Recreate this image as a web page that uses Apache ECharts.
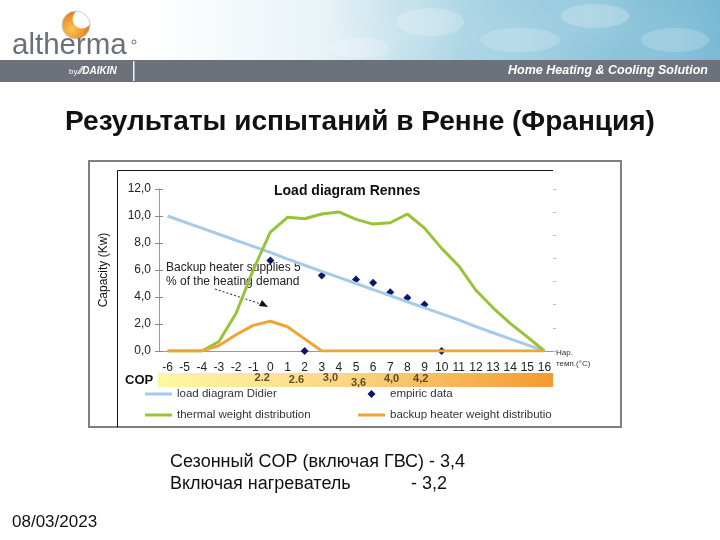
<!DOCTYPE html>
<html>
<head>
<meta charset="utf-8">
<script src="https://cdn.jsdelivr.net/npm/echarts@6/dist/echarts.min.js"></script>
<style>
  html, body { margin: 0; padding: 0; background: #fff; }
  #chart { width: 720px; height: 540px; }
</style>
</head>
<body>
<div id="chart"></div>
<script>
// outdoor temperature (°C)
const temps = ['-6', '-5', '-4', '-3', '-2', '-1', '0', '1', '2', '3', '4', '5', '6', '7', '8', '9', '10', '11', '12', '13', '14', '15', '16']
const loadDidier = [10.0, 9.55, 9.1, 8.65, 8.2, 7.75, 7.3, 6.8, 6.35, 5.9, 5.45, 5.0, 4.55, 4.1, 3.65, 3.2, 2.75, 2.3, 1.8, 1.35, 0.9, 0.45, 0]
const thermalWeight = [0, 0, 0, 0.7, 2.8, 6.0, 8.8, 9.9, 9.8, 10.15, 10.3, 9.75, 9.4, 9.5, 10.15, 9.1, 7.6, 6.3, 4.5, 3.2, 2.05, 1.05, 0]
const backupWeight = [0, 0, 0, 0.4, 1.2, 1.9, 2.2, 1.8, 0.9, 0, 0, 0, 0, 0, 0, 0, 0, 0, 0, 0, 0, 0, 0]
const empiricTemp = ['0', '2', '3', '5', '6', '7', '8', '9', '10']
const empiricCap = [6.7, 0, 5.6, 5.3, 5.05, 4.35, 3.95, 3.45, 0]
// COP values written in the band under the axis
const copTemp = [-0.43, 1.56, 3.54, 5.18, 7.1, 8.8]
const copLevel = [0.64, 0.5, 0.64, 0.32, 0.56, 0.56]
const copLabels = ['2.2', '2.6', '3,0', '3,6', '4,0', '4,2']

const FONT = '"Liberation Sans", Arial, sans-serif'
const chart = echarts.init(document.getElementById('chart'))

const seriesNames = ['load diagram Didier', 'thermal weight distribution', 'backup heater weight distribution', 'empiric data']
const lineIcon = 'path://M0,0L27,0L27,3L0,3Z'
const diamondIcon = 'path://M4,0L8,4L4,8L0,4Z'

const cloud = (cx, cy, rx, ry, a) => ({
  type: 'ellipse', z: -9, silent: true,
  shape: { cx, cy, rx, ry },
  style: { fill: 'rgba(255,255,255,' + a + ')', shadowBlur: 30, shadowColor: 'rgba(255,255,255,0.8)' }
})

const option = {
  animation: false,
  textStyle: { fontFamily: FONT },
  title: {
    text: 'Load diagram Rennes',
    left: 269,
    top: 179,
    textStyle: { fontSize: 14, fontWeight: 'bold', color: '#111', fontFamily: FONT }
  },
  legend: [
    {
      left: 145,
      top: 388,
      padding: 0,
      orient: 'vertical',
      itemWidth: 27,
      itemHeight: 8,
      itemGap: 9,
      data: [{ name: seriesNames[0], icon: lineIcon }, { name: seriesNames[1], icon: lineIcon }],
      textStyle: { fontSize: 11.5, color: '#333', fontFamily: FONT }
    },
    {
      left: 358,
      top: 388,
      padding: 0,
      orient: 'vertical',
      itemWidth: 27,
      itemHeight: 8,
      itemGap: 9,
      data: [{ name: seriesNames[3], icon: diamondIcon }, { name: seriesNames[2], icon: lineIcon }],
      textStyle: { fontSize: 11.5, color: '#333', fontFamily: FONT, width: 169, overflow: 'truncate', ellipsis: '' }
    }
  ],
  grid: [
    { left: 159, top: 189, width: 394, height: 162 },
    {
      left: 158, top: 373, width: 395, height: 14, show: true, borderWidth: 0,
      backgroundColor: new echarts.graphic.LinearGradient(0, 0, 1, 0, [
        { offset: 0, color: '#fdf7a4' },
        { offset: 0.45, color: '#fbd888' },
        { offset: 1, color: '#f49a2f' }
      ])
    }
  ],
  xAxis: [
    {
      type: 'category',
      gridIndex: 0,
      position: 'bottom',
      data: temps,
      boundaryGap: true,
      axisLine: { lineStyle: { color: '#999', width: 1 } },
      axisTick: { length: 4, lineStyle: { color: '#888' } },
      axisLabel: { interval: 0, margin: 11, fontSize: 12, color: '#222' },
      name: 'Нар.\nтемп.(°C)',
      nameLocation: 'end',
      nameGap: 3,
      nameTextStyle: { fontSize: 8, color: '#333', align: 'left', verticalAlign: 'top', lineHeight: 11, padding: [-4, 0, 0, 0] }
    },
    {
      type: 'category',
      gridIndex: 0,
      position: 'bottom',
      data: temps,
      boundaryGap: true,
      axisLine: { show: false },
      axisTick: { inside: true, length: 4, lineStyle: { color: '#888' } },
      axisLabel: { show: false }
    },
    { type: 'value', gridIndex: 1, min: -6.5, max: 16.5, show: false }
  ],
  yAxis: [
    {
      type: 'value',
      gridIndex: 0,
      min: 0,
      max: 12,
      interval: 2,
      axisLine: { show: true, lineStyle: { color: '#999' } },
      axisTick: { show: true, length: 4, lineStyle: { color: '#888' } },
      axisLabel: { margin: 8, fontSize: 12, color: '#222', formatter: v => v.toFixed(1).replace('.', ',') },
      splitLine: { show: false },
      name: 'Capacity (Kw)',
      nameLocation: 'middle',
      nameGap: 49,
      nameRotate: 90,
      nameTextStyle: { fontSize: 12, color: '#111' }
    },
    {
      type: 'value',
      gridIndex: 0,
      position: 'right',
      min: 0,
      max: 7,
      interval: 1,
      axisLine: { show: false },
      axisTick: { show: true, length: 3, lineStyle: { color: '#bbb' } },
      axisLabel: { show: false },
      splitLine: { show: false }
    },
    {
      type: 'value',
      gridIndex: 0,
      position: 'left',
      min: 0,
      max: 12,
      interval: 2,
      axisLine: { show: false },
      axisTick: { show: true, inside: true, length: 4, lineStyle: { color: '#888' } },
      axisLabel: { show: false },
      splitLine: { show: false }
    },
    { type: 'value', gridIndex: 1, min: 0, max: 1, show: false }
  ],
  series: [
    {
      name: seriesNames[0],
      type: 'line',
      data: loadDidier,
      symbol: 'none',
      lineStyle: { color: '#a6cbe8', width: 3 },
      itemStyle: { color: '#a6cbe8' }
    },
    {
      name: seriesNames[1],
      type: 'line',
      data: thermalWeight,
      symbol: 'none',
      lineStyle: { color: '#97c23a', width: 3 },
      itemStyle: { color: '#97c23a' }
    },
    {
      name: seriesNames[2],
      type: 'line',
      data: backupWeight,
      symbol: 'none',
      lineStyle: { color: '#f0a436', width: 3 },
      itemStyle: { color: '#f0a436' }
    },
    {
      name: seriesNames[3],
      type: 'scatter',
      data: empiricTemp.map((t, i) => [t, empiricCap[i]]),
      symbol: 'diamond',
      symbolSize: 8,
      itemStyle: { color: '#0b1766', opacity: 1 }
    },
    {
      name: 'COP',
      type: 'scatter',
      xAxisIndex: 2,
      yAxisIndex: 3,
      data: copTemp.map((t, i) => [t, copLevel[i], copLabels[i]]),
      symbolSize: 1,
      itemStyle: { color: 'rgba(0,0,0,0)' },
      label: {
        show: true,
        position: 'inside',
        formatter: p => p.value[2],
        fontSize: 11,
        fontWeight: 'bold',
        color: '#3a2a0c'
      }
    }
  ],
  graphic: [
    // sky picture behind the logo line
    {
      type: 'rect', z: -10, silent: true,
      shape: { x: 150, y: 0, width: 570, height: 60 },
      style: {
        fill: new echarts.graphic.LinearGradient(0, 0, 1, 0, [
          { offset: 0, color: '#ffffff' },
          { offset: 0.3, color: '#e8f3f7' },
          { offset: 0.55, color: '#acd5e5' },
          { offset: 1, color: '#78b9d3' }
        ])
      }
    },
    cloud(430, 22, 34, 14, 0.2),
    cloud(520, 40, 40, 12, 0.18),
    cloud(595, 16, 34, 12, 0.22),
    cloud(675, 40, 34, 12, 0.18),
    cloud(360, 48, 30, 10, 0.2),
    // logo
    {
      type: 'circle', silent: true, shape: { cx: 76, cy: 25, r: 14 },
      style: {
        fill: new echarts.graphic.RadialGradient(0.35, 0.65, 0.8, [
          { offset: 0, color: '#f8c84e' },
          { offset: 0.55, color: '#ee902f' },
          { offset: 1, color: '#c85a2c' }
        ])
      }
    },
    { type: 'circle', silent: true, shape: { cx: 82, cy: 19, r: 9.5 }, style: { fill: '#fff' } },
    { type: 'circle', silent: true, shape: { cx: 76, cy: 25, r: 14 }, style: { fill: 'none', stroke: '#cfcfcf', lineWidth: 1 } },
    { type: 'text', silent: true, style: { text: 'altherma', x: 12, y: 46, textVerticalAlign: 'middle', font: '29.5px "Liberation Sans", Arial', fill: '#6b6f76' } },
    { type: 'circle', silent: true, shape: { cx: 134, cy: 42, r: 2 }, style: { fill: 'none', stroke: '#6b6f76', lineWidth: 1 } },
    // grey band
    { type: 'rect', silent: true, shape: { x: 0, y: 60, width: 720, height: 22 }, style: { fill: '#6d717a' } },
    { type: 'rect', silent: true, shape: { x: 133, y: 61, width: 1.5, height: 20 }, style: { fill: '#f2f2f2' } },
    { type: 'text', silent: true, style: { text: 'by', x: 69, y: 72, textVerticalAlign: 'middle', font: '8px "Liberation Sans", Arial', fill: '#fff' } },
    { type: 'text', silent: true, style: { text: '⁄⁄DAIKIN', x: 79, y: 71, textVerticalAlign: 'middle', font: 'italic bold 10px "Liberation Sans", Arial', fill: '#fff' } },
    { type: 'text', silent: true, style: { text: 'Home Heating & Cooling Solution', x: 708, y: 71, textAlign: 'right', textVerticalAlign: 'middle', font: 'italic bold 12.5px "Liberation Sans", Arial', fill: '#fff' } },
    // slide title
    { type: 'text', silent: true, style: { text: 'Результаты испытаний в Ренне (Франция)', x: 360, y: 122, textAlign: 'center', textVerticalAlign: 'middle', font: 'bold 28px "Liberation Sans", Arial', fill: '#111' } },
    // picture frame around the chart
    { type: 'rect', silent: true, shape: { x: 89, y: 161, width: 532, height: 266 }, style: { fill: 'none', stroke: '#808080', lineWidth: 2 } },
    { type: 'polyline', silent: true, shape: { points: [[117.5, 427], [117.5, 170.5], [553, 170.5]] }, style: { fill: 'none', stroke: '#111', lineWidth: 1 } },
    // annotation
    { type: 'text', silent: true, style: { text: 'Backup heater supplies 5\n% of the heating demand', x: 166, y: 274.5, textVerticalAlign: 'middle', font: '12px "Liberation Sans", Arial', fill: '#222', lineHeight: 14 } },
    { type: 'line', silent: true, shape: { x1: 215, y1: 289, x2: 264, y2: 305 }, style: { stroke: '#222', lineWidth: 1, lineDash: [2, 2] } },
    { type: 'polygon', silent: true, shape: { points: [[268, 307], [259, 306], [262, 300]] }, style: { fill: '#111' } },
    { type: 'text', silent: true, style: { text: 'COP', x: 125, y: 380, textVerticalAlign: 'middle', font: 'bold 13px "Liberation Sans", Arial', fill: '#111' } },
    // notes under the chart
    { type: 'text', silent: true, style: { text: 'Сезонный COP (включая ГВС) - 3,4', x: 170, y: 462, textVerticalAlign: 'middle', font: '18px "Liberation Sans", Arial', fill: '#111' } },
    { type: 'text', silent: true, style: { text: 'Включая нагреватель', x: 170, y: 484, textVerticalAlign: 'middle', font: '18px "Liberation Sans", Arial', fill: '#111' } },
    { type: 'text', silent: true, style: { text: '- 3,2', x: 411, y: 484, textVerticalAlign: 'middle', font: '18px "Liberation Sans", Arial', fill: '#111' } },
    { type: 'text', silent: true, style: { text: '08/03/2023', x: 12, y: 522, textVerticalAlign: 'middle', font: '17px "Liberation Sans", Arial', fill: '#111' } }
  ]
}

chart.setOption(option)
</script>
</body>
</html>
